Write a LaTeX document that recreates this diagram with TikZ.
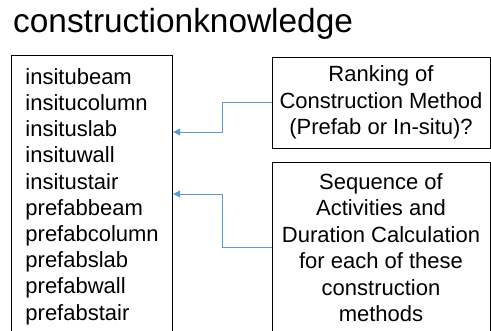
\documentclass[tikz,border=0pt]{standalone}
\usepackage{fontspec}
\setmainfont{Liberation Sans}
\usetikzlibrary{arrows.meta}
\definecolor{linkblue}{RGB}{91,155,213}
\tikzset{
  box/.style={draw, line width=0.9pt, inner sep=0pt, align=center, font=\fontsize{22}{26.5}\selectfont},
  link/.style={linkblue, line width=0.8pt, -{Triangle[length=7pt,width=7pt]}}
}
\begin{document}
\begin{tikzpicture}[x=1pt, y=1pt]
        \useasboundingbox (0,0) rectangle (491,-331);
        \node (title) [anchor=base west, inner sep=0pt, font=\fontsize{33.4}{40}\selectfont] at (13,-33) {constructionknowledge};
        \node (items) [box, align=left, anchor=north west, inner xsep=14pt, inner ysep=13pt, text depth=25pt, font=\fontsize{22}{26.2}\selectfont] at (11,-55)
            {insitubeam\\insitucolumn\\insituslab\\insituwall\\insitustair\\prefabbeam\\prefabcolumn\\prefabslab\\prefabwall\\prefabstair};
        \node (rank) [box, minimum width=218pt, minimum height=91pt] at (381,-102.5) {Ranking of\\Construction Method\\(Prefab or In-situ)?};
        \node (seq) [box, minimum width=218pt, minimum height=171pt] at (381,-247.5) {Sequence of\\Activities and\\Duration Calculation\\for each of these\\construction\\methods};
        % elbow links back to the list, lower boxes run off the page
        \draw[link] (rank.west) -- ++(-49,0) |- ([yshift=-77pt]items.north east);
        \draw[link] (seq.west) -- ++(-49,0) |- ([yshift=-139pt]items.north east);
    \end{tikzpicture}
\end{document}
